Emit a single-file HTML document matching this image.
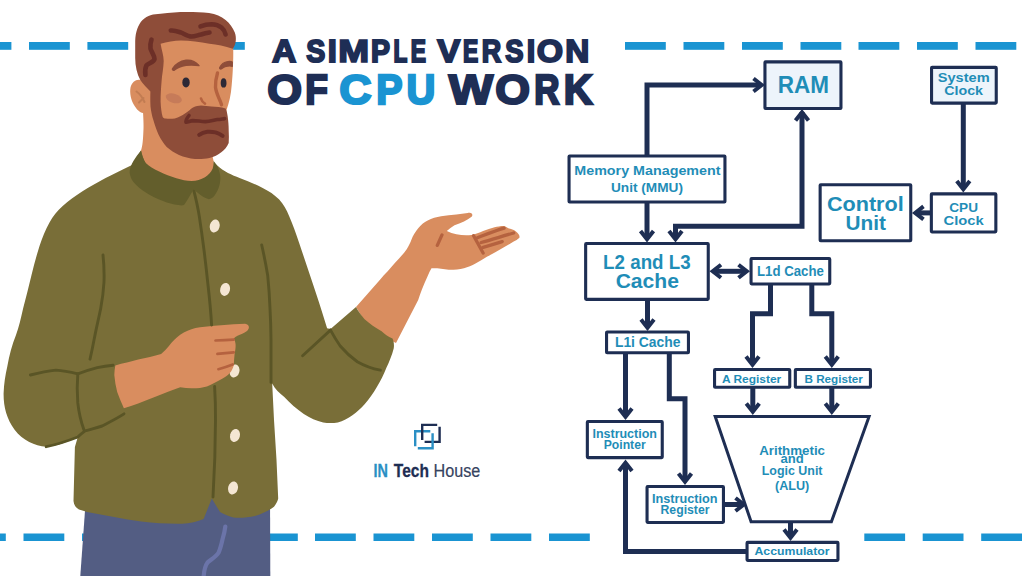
<!DOCTYPE html>
<html><head><meta charset="utf-8"><title>A Simple Version of CPU Work</title>
<style>
html,body{margin:0;padding:0;background:#fff;}
body{width:1024px;height:576px;overflow:hidden;font-family:"Liberation Sans",sans-serif;}
svg{display:block;position:absolute;left:0;top:0;}
text{font-family:"Liberation Sans",sans-serif;}
.b{font-weight:bold;}
.t{fill:#1f8db7;font-weight:bold;text-anchor:middle;}
</style></head><body>
<svg width="1024" height="576" viewBox="0 0 1024 576">
<rect width="1024" height="576" fill="#ffffff"/>

<g id="dashes">
<rect x="-29.4" y="42.0" width="40.8" height="7.8" fill="#1a94d2"/>
<rect x="29.0" y="42.0" width="40.8" height="7.8" fill="#1a94d2"/>
<rect x="87.4" y="42.0" width="40.8" height="7.8" fill="#1a94d2"/>
<rect x="204.0" y="42.0" width="40.8" height="7.8" fill="#1a94d2"/>
<rect x="625.0" y="42.0" width="40.8" height="7.8" fill="#1a94d2"/>
<rect x="683.5" y="42.0" width="40.8" height="7.8" fill="#1a94d2"/>
<rect x="742.0" y="42.0" width="40.8" height="7.8" fill="#1a94d2"/>
<rect x="800.5" y="42.0" width="40.8" height="7.8" fill="#1a94d2"/>
<rect x="858.5" y="42.0" width="40.8" height="7.8" fill="#1a94d2"/>
<rect x="917.0" y="42.0" width="40.8" height="7.8" fill="#1a94d2"/>
<rect x="975.5" y="42.0" width="40.8" height="7.8" fill="#1a94d2"/>
<rect x="-35.0" y="533.5" width="40.8" height="7.5" fill="#1a94d2"/>
<rect x="23.5" y="533.5" width="40.8" height="7.5" fill="#1a94d2"/>
<rect x="82.0" y="533.5" width="40.8" height="7.5" fill="#1a94d2"/>
<rect x="257.0" y="533.5" width="40.8" height="7.5" fill="#1a94d2"/>
<rect x="315.0" y="533.5" width="40.8" height="7.5" fill="#1a94d2"/>
<rect x="373.5" y="533.5" width="40.8" height="7.5" fill="#1a94d2"/>
<rect x="432.0" y="533.5" width="40.8" height="7.5" fill="#1a94d2"/>
<rect x="490.5" y="533.5" width="40.8" height="7.5" fill="#1a94d2"/>
<rect x="549.0" y="533.5" width="40.8" height="7.5" fill="#1a94d2"/>
<rect x="864.3" y="533.5" width="40.8" height="7.5" fill="#1a94d2"/>
<rect x="922.7" y="533.5" width="40.8" height="7.5" fill="#1a94d2"/>
<rect x="981.2" y="533.5" width="40.8" height="7.5" fill="#1a94d2"/>
</g>
<g id="title" font-weight="bold" stroke-linejoin="miter">
<text transform="translate(271.91 61.50) scale(0.3361 0.3161)" font-size="100" fill="#1e2e55" stroke="#1e2e55" stroke-width="1.90" vector-effect="non-scaling-stroke" style="vector-effect:non-scaling-stroke">A</text>
<text transform="translate(306.13 61.50) scale(0.2854 0.3161)" font-size="100" fill="#1e2e55" stroke="#1e2e55" stroke-width="1.90" vector-effect="non-scaling-stroke" style="vector-effect:non-scaling-stroke">S</text>
<text transform="translate(327.77 61.50) scale(0.3263 0.3161)" font-size="100" fill="#1e2e55" stroke="#1e2e55" stroke-width="1.90" vector-effect="non-scaling-stroke" style="vector-effect:non-scaling-stroke">I</text>
<text transform="translate(338.27 61.50) scale(0.3704 0.3161)" font-size="100" fill="#1e2e55" stroke="#1e2e55" stroke-width="1.90" vector-effect="non-scaling-stroke" style="vector-effect:non-scaling-stroke">M</text>
<text transform="translate(371.05 61.50) scale(0.2845 0.3161)" font-size="100" fill="#1e2e55" stroke="#1e2e55" stroke-width="1.90" vector-effect="non-scaling-stroke" style="vector-effect:non-scaling-stroke">P</text>
<text transform="translate(393.44 61.50) scale(0.2260 0.3161)" font-size="100" fill="#1e2e55" stroke="#1e2e55" stroke-width="1.90" vector-effect="non-scaling-stroke" style="vector-effect:non-scaling-stroke">L</text>
<text transform="translate(410.82 61.50) scale(0.2281 0.3161)" font-size="100" fill="#1e2e55" stroke="#1e2e55" stroke-width="1.90" vector-effect="non-scaling-stroke" style="vector-effect:non-scaling-stroke">E</text>
<text transform="translate(437.31 61.50) scale(0.3444 0.3161)" font-size="100" fill="#1e2e55" stroke="#1e2e55" stroke-width="1.90" vector-effect="non-scaling-stroke" style="vector-effect:non-scaling-stroke">V</text>
<text transform="translate(462.92 61.50) scale(0.2281 0.3161)" font-size="100" fill="#1e2e55" stroke="#1e2e55" stroke-width="1.90" vector-effect="non-scaling-stroke" style="vector-effect:non-scaling-stroke">E</text>
<text transform="translate(481.85 61.50) scale(0.2694 0.3161)" font-size="100" fill="#1e2e55" stroke="#1e2e55" stroke-width="1.90" vector-effect="non-scaling-stroke" style="vector-effect:non-scaling-stroke">R</text>
<text transform="translate(505.16 61.50) scale(0.2737 0.3161)" font-size="100" fill="#1e2e55" stroke="#1e2e55" stroke-width="1.90" vector-effect="non-scaling-stroke" style="vector-effect:non-scaling-stroke">S</text>
<text transform="translate(526.71 61.50) scale(0.3055 0.3161)" font-size="100" fill="#1e2e55" stroke="#1e2e55" stroke-width="1.90" vector-effect="non-scaling-stroke" style="vector-effect:non-scaling-stroke">I</text>
<text transform="translate(536.86 61.50) scale(0.3382 0.3161)" font-size="100" fill="#1e2e55" stroke="#1e2e55" stroke-width="1.90" vector-effect="non-scaling-stroke" style="vector-effect:non-scaling-stroke">O</text>
<text transform="translate(565.22 61.50) scale(0.3334 0.3161)" font-size="100" fill="#1e2e55" stroke="#1e2e55" stroke-width="1.90" vector-effect="non-scaling-stroke" style="vector-effect:non-scaling-stroke">N</text>
<text transform="translate(267.21 104.25) scale(0.4476 0.4172)" font-size="100" fill="#1e2e55" stroke="#1e2e55" stroke-width="2.30" vector-effect="non-scaling-stroke" style="vector-effect:non-scaling-stroke">O</text>
<text transform="translate(305.27 104.25) scale(0.3706 0.4172)" font-size="100" fill="#1e2e55" stroke="#1e2e55" stroke-width="2.30" vector-effect="non-scaling-stroke" style="vector-effect:non-scaling-stroke">F</text>
<text transform="translate(339.31 104.25) scale(0.4481 0.4172)" font-size="100" fill="#1a94d2" stroke="#1a94d2" stroke-width="2.30" vector-effect="non-scaling-stroke" style="vector-effect:non-scaling-stroke">C</text>
<text transform="translate(376.31 104.25) scale(0.3941 0.4172)" font-size="100" fill="#1a94d2" stroke="#1a94d2" stroke-width="2.30" vector-effect="non-scaling-stroke" style="vector-effect:non-scaling-stroke">P</text>
<text transform="translate(406.45 104.25) scale(0.3993 0.4172)" font-size="100" fill="#1a94d2" stroke="#1a94d2" stroke-width="2.30" vector-effect="non-scaling-stroke" style="vector-effect:non-scaling-stroke">U</text>
<text transform="translate(448.70 104.25) scale(0.4703 0.4172)" font-size="100" fill="#1e2e55" stroke="#1e2e55" stroke-width="2.30" vector-effect="non-scaling-stroke" style="vector-effect:non-scaling-stroke">W</text>
<text transform="translate(495.21 104.25) scale(0.4476 0.4172)" font-size="100" fill="#1e2e55" stroke="#1e2e55" stroke-width="2.30" vector-effect="non-scaling-stroke" style="vector-effect:non-scaling-stroke">O</text>
<text transform="translate(534.31 104.25) scale(0.3497 0.4172)" font-size="100" fill="#1e2e55" stroke="#1e2e55" stroke-width="2.30" vector-effect="non-scaling-stroke" style="vector-effect:non-scaling-stroke">R</text>
<text transform="translate(563.77 104.25) scale(0.4009 0.4172)" font-size="100" fill="#1e2e55" stroke="#1e2e55" stroke-width="2.30" vector-effect="non-scaling-stroke" style="vector-effect:non-scaling-stroke">K</text>
</g>
<g id="logo" fill="none" stroke-width="2.4" stroke-linejoin="miter">
<path d="M415.2 446.3 V431.2 H430.3" stroke="#2a8fc4"/>
<path d="M422.2 440 V424.9 H437.2" stroke="#1e2e53"/>
<path d="M439.6 426.8 V441.9 H424.6" stroke="#1e2e53"/>
<path d="M432.6 433.3 V448.2 H417.8" stroke="#2a8fc4"/>
</g>
<g id="logotext">
<text x="373.6" y="476.7" font-size="18.7" textLength="14.4" lengthAdjust="spacingAndGlyphs" fill="#2a8fc4" stroke="#2a8fc4" stroke-width="0.3" font-weight="bold">IN</text>
<text x="393.8" y="476.7" font-size="18.7" textLength="35.1" lengthAdjust="spacingAndGlyphs" fill="#1e2e53" stroke="#1e2e53" stroke-width="0.3" font-weight="bold">Tech</text>
<text x="433.5" y="476.7" font-size="18.7" textLength="46.8" lengthAdjust="spacingAndGlyphs" fill="#364360" stroke="#364360" stroke-width="0.2">House</text>
</g>
<g id="diagram" fill="none" stroke="#1e2e53" stroke-linejoin="miter" stroke-linecap="butt">
<path d="M647 156 V85 H761" stroke-width="5.0"/>
<path d="M753.5 78.5 L761.8 85.0 L753.5 91.5" stroke-width="4.0"/>
<path d="M802 112 V226.3 H675.5 V238" stroke-width="5.0"/>
<path d="M795.5 120.5 L802.0 112.2 L808.5 120.5" stroke-width="4.0"/>
<path d="M669.0 231.0 L675.5 239.3 L682.0 231.0" stroke-width="4.0"/>
<path d="M647 203 V238" stroke-width="5.0"/>
<path d="M640.5 231.0 L647.0 239.3 L653.5 231.0" stroke-width="4.0"/>
<path d="M963.3 104 V188" stroke-width="5.0"/>
<path d="M956.8 181.0 L963.3 189.3 L969.8 181.0" stroke-width="4.0"/>
<path d="M930 212.9 H916" stroke-width="5.0"/>
<path d="M923.5 206.4 L915.2 212.9 L923.5 219.4" stroke-width="4.0"/>
<path d="M714 271.3 H746" stroke-width="5.0"/>
<path d="M721.0 264.8 L712.7 271.3 L721.0 277.8" stroke-width="4.0"/>
<path d="M738.5 264.8 L746.8 271.3 L738.5 277.8" stroke-width="4.0"/>
<path d="M647.5 300 V327" stroke-width="5.0"/>
<path d="M641.0 319.5 L647.5 327.8 L654.0 319.5" stroke-width="4.0"/>
<path d="M770.5 285 V313.8 H752.5 V364" stroke-width="5.0"/>
<path d="M746.0 356.5 L752.5 364.8 L759.0 356.5" stroke-width="4.0"/>
<path d="M811.8 285 V313.8 H831.8 V364" stroke-width="5.0"/>
<path d="M825.3 356.5 L831.8 364.8 L838.3 356.5" stroke-width="4.0"/>
<path d="M752.8 388 V411" stroke-width="5.0"/>
<path d="M746.3 403.5 L752.8 411.8 L759.3 403.5" stroke-width="4.0"/>
<path d="M831.8 388 V411" stroke-width="5.0"/>
<path d="M825.3 403.5 L831.8 411.8 L838.3 403.5" stroke-width="4.0"/>
<path d="M625.5 354 V416" stroke-width="5.0"/>
<path d="M619.0 408.5 L625.5 416.8 L632.0 408.5" stroke-width="4.0"/>
<path d="M669.3 354 V398.8 H685 V481" stroke-width="5.0"/>
<path d="M678.5 473.5 L685.0 481.8 L691.5 473.5" stroke-width="4.0"/>
<path d="M725 504.5 H742" stroke-width="5.0"/>
<path d="M735.5 498.0 L743.8 504.5 L735.5 511.0" stroke-width="4.0"/>
<path d="M790.5 523 V537" stroke-width="5.0"/>
<path d="M784.0 529.5 L790.5 537.8 L797.0 529.5" stroke-width="4.0"/>
<path d="M746 551.5 H625.5 V464" stroke-width="5.0"/>
<path d="M619.0 471.0 L625.5 462.7 L632.0 471.0" stroke-width="4.0"/>
<rect x="764.95" y="61.85" width="76.00" height="46.70" fill="#edf4fb" stroke-width="3.1" rx="0.6"/>
<rect x="931.55" y="67.35" width="64.70" height="35.80" fill="#edf4fb" stroke-width="3.1" rx="0.6"/>
<rect x="569.05" y="155.95" width="155.90" height="46.10" fill="#ffffff" stroke-width="3.1" rx="0.6"/>
<rect x="820.15" y="184.75" width="90.60" height="56.00" fill="#ffffff" stroke-width="3.1" rx="0.6"/>
<rect x="931.35" y="193.85" width="64.50" height="38.10" fill="#ffffff" stroke-width="3.1" rx="0.6"/>
<rect x="585.65" y="243.55" width="122.60" height="55.80" fill="#ffffff" stroke-width="3.1" rx="0.6"/>
<rect x="751.05" y="258.55" width="78.70" height="25.40" fill="#ffffff" stroke-width="3.1" rx="0.6"/>
<rect x="606.55" y="332.05" width="81.90" height="20.70" fill="#ffffff" stroke-width="3.1" rx="0.6"/>
<rect x="714.55" y="369.55" width="75.20" height="17.70" fill="#ffffff" stroke-width="3.1" rx="0.6"/>
<rect x="795.35" y="369.55" width="75.10" height="17.70" fill="#ffffff" stroke-width="3.1" rx="0.6"/>
<rect x="587.35" y="421.55" width="74.90" height="36.10" fill="#ffffff" stroke-width="3.1" rx="0.6"/>
<rect x="647.05" y="486.55" width="76.40" height="35.90" fill="#ffffff" stroke-width="3.1" rx="0.6"/>
<rect x="747.05" y="542.35" width="90.90" height="18.10" fill="#ffffff" stroke-width="3.1" rx="0.6"/>
<path d="M715.2 416.5 H869.1 L831.4 521.8 H751.1 Z" fill="#ffffff" stroke-width="3"/>
</g>
<g id="labels">
<text class="t" x="803.4" y="92.6" font-size="23.2" textLength="51.2" lengthAdjust="spacingAndGlyphs">RAM</text>
<text class="t" x="963.7" y="82.4" font-size="13.3" textLength="51.9" lengthAdjust="spacingAndGlyphs">System</text>
<text class="t" x="963.6" y="95.1" font-size="13.3" textLength="38.8" lengthAdjust="spacingAndGlyphs">Clock</text>
<text class="t" x="647.4" y="175.0" font-size="13.0" textLength="146.2" lengthAdjust="spacingAndGlyphs">Memory Management</text>
<text class="t" x="647.0" y="191.6" font-size="13.0" textLength="72.1" lengthAdjust="spacingAndGlyphs">Unit (MMU)</text>
<text class="t" x="865.3" y="210.7" font-size="20.0" textLength="76.7" lengthAdjust="spacingAndGlyphs">Control</text>
<text class="t" x="865.7" y="229.7" font-size="20.0" textLength="40.4" lengthAdjust="spacingAndGlyphs">Unit</text>
<text class="t" x="963.6" y="211.5" font-size="13.0" textLength="28.7" lengthAdjust="spacingAndGlyphs">CPU</text>
<text class="t" x="963.6" y="225.3" font-size="13.0" textLength="40.2" lengthAdjust="spacingAndGlyphs">Clock</text>
<text class="t" x="646.9" y="269.4" font-size="19.8" textLength="87.6" lengthAdjust="spacingAndGlyphs">L2 and L3</text>
<text class="t" x="647.3" y="287.8" font-size="19.8" textLength="63.3" lengthAdjust="spacingAndGlyphs">Cache</text>
<text class="t" x="790.4" y="276.3" font-size="14.0" textLength="66.8" lengthAdjust="spacingAndGlyphs">L1d Cache</text>
<text class="t" x="647.7" y="347.0" font-size="14.0" textLength="65.5" lengthAdjust="spacingAndGlyphs">L1i Cache</text>
<text class="t" x="751.6" y="382.5" font-size="11.5" textLength="59.3" lengthAdjust="spacingAndGlyphs">A Register</text>
<text class="t" x="833.7" y="382.5" font-size="11.5" textLength="58.5" lengthAdjust="spacingAndGlyphs">B Register</text>
<text class="t" x="624.7" y="438.0" font-size="12.0" textLength="64.5" lengthAdjust="spacingAndGlyphs">Instruction</text>
<text class="t" x="624.7" y="448.8" font-size="12.0" textLength="42.0" lengthAdjust="spacingAndGlyphs">Pointer</text>
<text class="t" x="684.7" y="503.3" font-size="12.0" textLength="65.5" lengthAdjust="spacingAndGlyphs">Instruction</text>
<text class="t" x="685.0" y="514.0" font-size="12.0" textLength="49.0" lengthAdjust="spacingAndGlyphs">Register</text>
<text class="t" x="792.1" y="454.5" font-size="12.5" textLength="65.8" lengthAdjust="spacingAndGlyphs">Arithmetic</text>
<text class="t" x="792.1" y="463.0" font-size="12.5" textLength="23.3" lengthAdjust="spacingAndGlyphs">and</text>
<text class="t" x="792.1" y="475.0" font-size="12.5" textLength="60.8" lengthAdjust="spacingAndGlyphs">Logic Unit</text>
<text class="t" x="792.1" y="490.0" font-size="12.5" textLength="34.3" lengthAdjust="spacingAndGlyphs">(ALU)</text>
<text class="t" x="792.0" y="555.0" font-size="11.5" textLength="75.0" lengthAdjust="spacingAndGlyphs">Accumulator</text>
</g>
<g id="man">
<path d="M86.500 490 L80.300 576 H270.300 L270 490 Z" fill="#535d83"/>
<path d="M225.300 526.500 C224.800 531 223.800 535 222.600 539 C221.500 544 220.500 548.500 218.500 552.800 C216 557 211 559.500 207.700 562.300 C205 566 204 571 203.600 577" fill="none" stroke="#6b74a9" stroke-width="4.2" stroke-linecap="round"/>
<path d="M356 307 L380 279.700 C385 274 390.500 268.500 395.300 262.600 C399.500 258 403.500 253.800 406.700 249.200 C408.800 246 410.300 242.800 411.500 239.600 C413 235.500 415.300 231.600 418.200 228.200 C420.800 225 424 222.400 427.700 220.500 C431.800 218.400 436.400 217.100 441.100 216.300 C446 215.400 451.300 214.900 456.400 214.400 C460.200 213.900 464 213.300 467.800 212.900 C469.500 212.700 471.300 213 472 213.900 C472.600 214.800 472.400 215.900 471.600 216.700 C469.300 218.600 466.700 220.200 464 221.500 C460.900 222.900 457.600 224 454.500 225.300 C451.700 226.900 449.100 228.800 446.800 231 C449.800 232.500 453 233.600 456.400 234.300 C461.400 235.200 466.600 235.400 471.600 234.900 C475.500 234 479.400 232.600 483.100 231 C486.900 229.600 490.700 228.300 494.600 227.200 C497.700 226.400 501 225.800 504.100 225.900 C505.600 226.400 507 227.300 508.300 228.200 C510.100 228.700 512 229.300 513.700 230.100 C515.500 231 517.200 232.300 518.400 233.900 C519.300 235 519.800 236.400 519.400 237.700 C517.700 239.300 515.700 240.500 513.700 241.600 C509.900 243.900 506 246 502.200 248.200 C497.100 251.100 492 254 486.900 256.800 C483.100 259.100 479.300 261.400 475.500 263.500 C471.800 265.400 468 267.100 464 268.300 C459 269.400 453.800 269.900 448.700 269.800 C444.900 269.500 441.100 268.900 437.300 268.300 L431.500 268.300 C430 270.700 428.800 273.300 427.700 275.900 C425.600 280.300 423.700 284.800 422 289.300 C420.700 292.800 419.400 296.400 418.200 300 L396 343 L370 330 Z" fill="#d98d5f"/>
<path d="M473.600 235.800 L483.100 253 M477.400 237.700 C486 234.500 495 231 504.100 228.200 M481.200 242.500 C492 239.500 503 236 513.700 233 M483.100 247.300 C489.500 245.500 496 243.500 502.200 241.600 M442 234.900 L437.300 245.400" fill="none" stroke="#b5623f" stroke-width="3.300" stroke-linecap="round"/>
<path d="M141 150.500 L132 164.900 C123 169.500 114.500 173.500 105.600 178 C97.800 182.300 90 186.500 82.500 191.300 C75.500 195.700 68.800 200.500 62.700 206.100 C57.300 211 52.800 216.500 49.500 222.600 C45.500 230 42.300 237.800 39.600 245.700 C36.500 255.500 33.800 265.400 31.400 275.400 C28.800 286.400 26 297.400 23.100 308.400 C21 318 18.800 327 16 335 C12 345 9.300 355 7.300 366.500 C5.300 375 4 384 3.600 393.200 C3.500 400 4.300 406.500 6.100 412.700 C8 419 10.800 424.700 14.600 429.700 C18.500 434.800 23.500 438.900 29.200 441.900 C34.500 444.500 40.300 446.200 46.200 446.700 C52 446.500 57.700 445.200 63.200 443.100 C68.200 441.300 73 439.200 77.800 437 L74.900 447 L73.500 501 C73.800 505 76 508 79 509.500 C82 510.500 84.500 511.300 87 512 C105 515.500 123 518.800 141.300 521.600 C155 523.200 168.500 524 182 523.800 C190 523.300 197.500 521.500 203.600 519 L211.800 498.600 L220 512 C224.500 514.500 229 516.500 233.400 517.600 C240.500 518.300 248 517.500 255 516 C262 513.800 268.500 510.800 274 506.700 C276 504.500 277.500 501.500 278.200 498.600 L276.500 460 L274 420 L272.200 383.600 C275 389 279.500 393.500 284.300 397 C290 403 296.500 409 303.800 414 C310 418 316.500 421 323.200 422.500 C328 423.300 333 423.300 337.800 422.500 C343 420.800 348 418.300 352.400 415.200 C357 412 361 408.300 364.600 404.300 C369.200 399 373.200 393.300 376.700 387.300 C380.500 381 383.800 374.500 386.400 367.800 C389.300 361.500 392 355 393.700 348.400 C394.300 345 393.800 341.500 392.500 338.600 C388 336.500 384.500 334 381.600 331.300 C375.500 327.800 369.800 323.700 364.600 319.200 C361.300 315.500 358.300 311.400 356 307 L330.500 329 L327.100 328.200 C324.400 319.400 321.600 310.600 318.800 301.800 C315.500 291.900 312.200 282 308.900 272.100 C305.600 262.200 302.300 252.300 299 242.400 C296 233.500 292.800 224.600 289.100 216 C286.700 210 283.500 204.300 279.200 199.500 C274.500 194.800 268.800 191 262.700 188 C255.300 184.200 247.500 181 239.600 178 C232 175 224 172 216.500 164.800 Z" fill="#796e38"/>
<ellipse cx="214.7" cy="226.0" rx="4.900" ry="6.600" fill="#f4e6d3" transform="rotate(14 214.7 226.0)"/>
<ellipse cx="225.1" cy="289.4" rx="4.900" ry="6.600" fill="#f4e6d3" transform="rotate(14 225.1 289.4)"/>
<ellipse cx="234.5" cy="371.0" rx="4.900" ry="6.600" fill="#f4e6d3" transform="rotate(14 234.5 371.0)"/>
<ellipse cx="235.0" cy="435.5" rx="4.900" ry="6.600" fill="#f4e6d3" transform="rotate(14 235.0 435.5)"/>
<ellipse cx="233.0" cy="488.0" rx="4.900" ry="6.600" fill="#f4e6d3" transform="rotate(14 233.0 488.0)"/>
<path d="M115.300 365.400 C123 363.500 131 361.500 138.200 359.600 C146 357.700 154 356 161.100 353.900 C164 351.500 166.500 349 168.700 346.300 C172 342 176 338 180.200 334.800 C185 331.500 190 329.500 195.500 328.100 C201.500 326.800 208 326.200 214.600 325.700 C221 325.200 227.500 324.700 233.700 324.300 C237.500 324 241.500 323.700 245.100 323.700 C247.500 324 249 325.500 248.900 327.200 C248.800 328.800 248 330 247 331 C244 333 240.500 334.500 237.500 335.800 C236 336.700 234.800 337.600 233.700 338.600 C234.800 340.300 235.400 342.300 235.600 344.400 C235.800 347.500 235.200 350.800 234.600 353.900 C234.200 357.700 234 361.600 233.700 365.400 C233 368.300 231.600 370.900 229.800 373 C227.700 375.400 225 377.200 222.200 378.700 C217.300 381.500 212.200 384.200 206.900 386.400 C202 387.800 196.800 388.400 191.600 388.300 C187.800 388.300 184 387.900 180.200 387.300 C172.500 390 164.800 392.800 157.300 395.900 C150.800 398.300 144.500 400.900 138.200 403.600 C133.400 405.200 128.600 406.800 123.900 408.300 C121.500 403 119.200 397.600 117.200 392.100 C115.800 386.400 114.800 380.700 114.300 374.900 C114.400 371.700 114.700 368.500 115.300 365.400 Z" fill="#d98d5f"/>
<path d="M215.500 340.500 C221.500 340.200 227.700 339.900 233.700 339.600 M217.400 353.900 C222.800 353.400 228.300 352.900 233.700 352.400 M218.400 369.200 C223.300 367.800 228 366.200 232.700 364.400" fill="none" stroke="#b5623f" stroke-width="2.700" stroke-linecap="round"/>
<g fill="none" stroke="#5a5526" stroke-width="2.900" stroke-linecap="round" stroke-linejoin="round">
<path d="M193.600 189.600 C196 199 198 208 199.300 216.400 C201 227.500 202.600 239 204 250 C205.500 262 206.800 273.500 208 285 C209.500 298 210.800 311.500 211.600 325"/>
<path d="M214.600 386.400 C215.300 398 215.600 409 215.500 420 C215.400 446 214.500 472 213 497"/>
<path d="M103 255 C104 264 104.300 273 104 282 C103.500 291 102.300 300 100.700 308.400 C98.500 319 96 329.500 94 340 C92.800 346.500 91.400 353 90 359.200"/>
<path d="M261.700 245 C264 255 266 265.300 267.700 275.400 C268.800 286.300 269.600 297.400 270 308.400 C270.600 319 270.900 329.500 271 340 C271 354 271 368 271 382.400"/>
<path d="M30.400 375 C39 372.800 47.500 371 55.900 370.100 C63 370.500 70.500 372 77.800 373.800 C84.300 371.500 90.800 369.400 97.300 367.700 C102.500 366.600 107.800 365.800 113.100 365.300"/>
<path d="M77.800 373.800 C77 383.500 77 393.300 77.800 402.900 C78.800 412.200 80.800 421.200 83.900 429.700"/>
<path d="M124 413.900 C117 418.500 109.500 422.200 102.100 426 C96.500 427.800 90.700 429.200 85.100 430.900 C82.500 432.800 80 434.800 77.800 437 C67.500 441 57 444.500 46.200 446.700"/>
<path d="M302.600 355.700 C312 347 321.300 338.500 330.500 330.100"/>
<path d="M330.500 330.100 C333.500 335.600 336.700 341 340.200 346 C345.300 352 351 357.300 357.300 361.700 C364.500 365.800 372.300 368.600 380.400 370.200"/>
</g>
<path d="M143 112 C143.500 120 143.800 128 143.400 131 C143 140 142.600 146 141 150.500 C143 158 145 163 147 166 C154 172 160 175 166 178 C175 182 184 184.500 192 184.500 C198 184 203 182 207 179.500 C211 176 213.500 172 214.500 168 L213.600 161 L212.400 156 L150 106 Z" fill="#d98d5f"/>
<path d="M141 150.500 C138 154 135.500 157.500 133.400 161 C131 165 129.600 169 129.600 172.500 C130 176 131.500 179.500 133.400 182 C137 186 141 189.500 145.800 192.500 C151 196 157 199 163 201 C168 203 173 204.500 178.300 205 C180.500 205.500 182.500 205.500 184 205 C185.500 203 186.800 201 187.800 199.200 C189.800 196 191.700 192.800 193.600 189.600 C196 191.800 198.600 193.700 201.200 195.400 C203.700 197 206.300 198.400 208.800 199.200 C211 198.800 213 197.500 214.600 195.400 C216.800 192.500 218.400 189.200 219.300 185.800 C220.200 182.700 220.500 179.500 220.300 176.300 C219.800 172.300 218.500 168.400 216.500 164.800 C215.600 163.400 214.600 162.100 213.600 161 C213.700 163.700 213.400 166.300 212.700 168.600 C211 172.500 208.300 175.300 205 177.200 C201 179.600 196.400 180.900 191.600 181 C186.500 181 181.400 179.800 176.400 178.200 C170.500 176.400 164.700 174.200 159.200 171.500 C154.200 169.200 149.400 166.700 145.800 163 C143.400 159.500 141.800 155.200 141 150.500 Z" fill="#635e2c"/>
<path d="M140.5 80 C136 79 132 82 130.5 87.5 C129.5 93 131 100 134 105 C136.5 109.5 140 112.5 143 113 L152 113 L152 85 Z" fill="#d98d5f"/>
<path d="M136.5 91.5 C139.5 93.5 142.5 97.5 144.5 102 M139 102.5 C141 100.5 142.5 99 143.5 98" fill="none" stroke="#c27c52" stroke-width="2" stroke-linecap="round"/>
<path d="M159 34 L234 34 L233.200 48 C233.500 60 232.700 75 231.700 85 C231 95 229 103 226.500 110 L226 140 L159 140 Z" fill="#d98d5f"/>
<path d="M140.300 80 C137 74 135.200 66 135.200 58 L135.200 41 C135.500 32 138 25 142.300 20.300 C145 17.500 148 16 150.500 15.200 C154 14.200 157 14 160.600 13.800 C170 12.500 178 12 187 12 C195 12 202 12.200 209 13 C216 14 221 16.500 225.600 20 C230 23.500 233 28 234.800 32.500 C235.800 35 236 38 235.800 40.600 C235.500 44 234.500 46.500 232.700 48.700 C225 46 217 44.500 209.400 43.700 C200 42 190 40.600 181 40.600 C174 40.800 167 42 160.600 43.700 C161.500 50 163.700 55 163.700 61 C163.500 68 162 75 161.600 81 C161 88 160.600 95 160.600 101.500 C160.800 107 161.500 113 162.700 117 C163.500 118.300 164.500 118.600 165.700 118.600 C169 119 172 118.800 174.800 118.600 C179 117 182 115.500 185 113.500 C188 111.500 190.500 109 193 107.400 C196 106 198.500 105.500 201 105.400 C204.500 105.500 208 106 211.400 106.400 C216 106.500 221 107 225.600 108.400 C226.800 111 227.400 114 227.700 116.600 C228.300 121 228.700 126 228.700 130.800 C228.900 135 229 139 228.700 143 C227 147 224.500 150 221.600 152 C218 155 214 157 209.400 158 C205 159 200 159.200 195 159 C189.500 158.500 184 157 179 155 C174.500 153 170.500 150 166.700 147 C163.500 143.500 161 139.500 158.600 134.800 C156.500 130.500 155 125.500 153.500 120.600 C152 116 151 111 150.500 106.400 C150.200 100 150.300 95 150.400 91.500 C147 88 143 84 140.300 80 Z" fill="#8e4d39"/>
<g fill="none" stroke="#6c2f27" stroke-linecap="round" stroke-linejoin="round">
<path d="M170.800 30.500 C174 30 178 31.500 181 32.500 C184.500 34 188 36.500 191.500 36.500 C195 36.500 198 35 201 34.500 C204 33.500 207 32.800 209.500 32.500" stroke-width="4.600"/>
<path d="M200.500 26.400 C204 25 208 24.200 211.500 24.200 C215.500 24.300 219 25.500 221.500 27.500 C224 29.500 225 32 225.600 34.500" stroke-width="4.600"/>
<path d="M151.500 39.600 C150.500 42.500 150 45.500 150.500 48.700 C151.500 52 154.500 55.500 154.500 59 C154 62 148 63.500 146.400 65.500 C145 68.500 145 72 145.400 75" stroke-width="4.600"/>
<path d="M189 115.500 C187 118 185.500 120.500 186 122.300 C188 122 190.500 121 193 120.600 C197 120.600 201 121.600 205.300 121.600 C209.500 121.500 213.500 120.300 217.500 119.600 C220 119.200 222.500 118.900 224.600 118.600" stroke-width="3.600"/>
<path d="M199.200 134.800 C201.500 133.200 204.500 132.200 207.300 131.800 C210 131.500 213 131.800 215.500 132.400 C218 133.200 220.500 134.500 222.600 135.900" stroke-width="4"/>
</g>
<path d="M172.600 68.600 C175 65 180 61.300 186 60.300 C191 59.800 196 62 199 65.600 C194.500 64.800 190 64.800 186 65.300 C181 66.200 177 68 174.500 70 C173 70.600 172 69.800 172.600 68.600 Z" fill="#8e4d39" stroke="#8e4d39" stroke-width="1.4" stroke-linejoin="round"/>
<path d="M219.700 67.500 C221 64.500 224.500 62 228 61.500 C230 61.300 231.500 61.500 232.300 62 L232.300 66.300 C230.500 65.800 227.500 66 225 66.800 C223.500 67.400 222 68.400 221 69 C220 69.200 219.300 68.500 219.700 67.500 Z" fill="#8e4d39" stroke="#8e4d39" stroke-width="1.2" stroke-linejoin="round"/>
<path d="M217.500 73 C216 78 215.300 83 215.500 87.300 C216 92 218 96 219.500 99.500 C220.500 101.500 221 103 221.500 104.800" fill="none" stroke="#b5623f" stroke-width="3.400" stroke-linecap="round"/>
<path d="M201 98.500 C201.500 100.500 203 102.500 205 103.600" fill="none" stroke="#b5623f" stroke-width="2.600" stroke-linecap="round"/>
<ellipse cx="173.800" cy="98.300" rx="8.300" ry="4.600" fill="#c67b59" transform="rotate(17 173.8 98.3)"/>
<ellipse cx="186" cy="82.400" rx="3.700" ry="5" fill="#2c2836"/>
<ellipse cx="223.600" cy="82.900" rx="2.900" ry="4.700" fill="#2c2836"/>
</g>
</svg></body></html>
